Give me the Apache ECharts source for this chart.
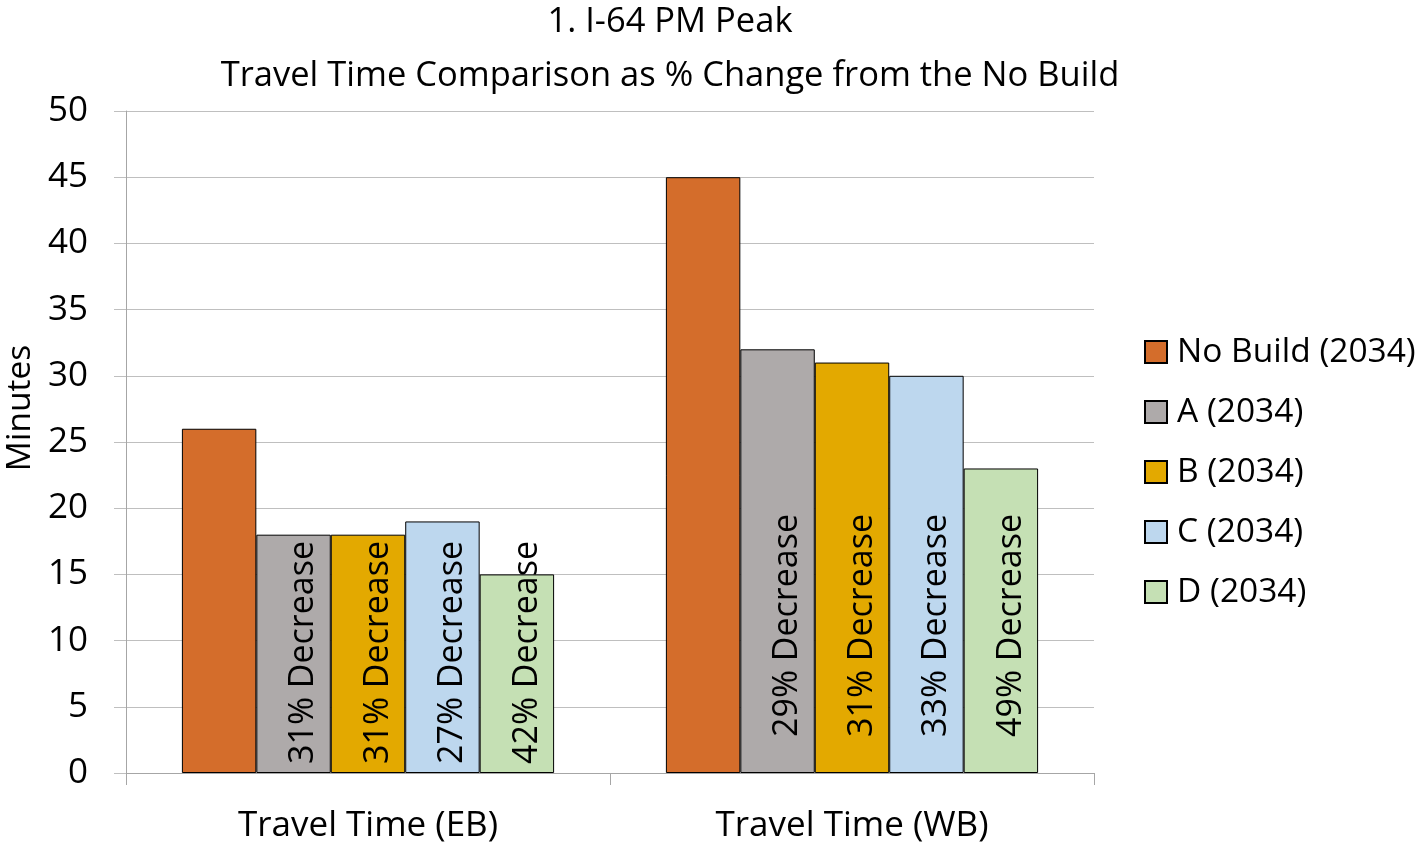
<!DOCTYPE html>
<html>
<head>
<meta charset="utf-8">
<script src="https://cdn.jsdelivr.net/npm/echarts@6/dist/echarts.min.js"></script>
<style>html,body{margin:0;padding:0;background:#fff}#c{width:1425px;height:844px}</style>
</head>
<body>
<div id="c"></div>
<script>
const categories = ['Travel Time (EB)', 'Travel Time (WB)'];
const seriesNames = ['No Build (2034)', 'A (2034)', 'B (2034)', 'C (2034)', 'D (2034)'];
const noBuild = [26, 45];
const altA = [18, 32];
const altB = [18, 31];
const altC = [19, 30];
const altD = [15, 23];
const labelsA = ['31% Decrease', '29% Decrease'];
const labelsB = ['31% Decrease', '31% Decrease'];
const labelsC = ['27% Decrease', '33% Decrease'];
const labelsD = ['42% Decrease', '49% Decrease'];
const yTicks = [0, 5, 10, 15, 20, 25, 30, 35, 40, 45, 50];

const colors = ['#D46D2B', '#AEAAAA', '#E3A900', '#BDD7EE', '#C5E0B4'];
const FONT = 'Open Sans';
const labelDist = [9, 36];

function mk(name, values, labels, color) {
  return {
    name: name,
    type: 'bar',
    barGap: 0,
    barCategoryGap: '23.1%',
    itemStyle: { color: color, borderColor: '#000', borderWidth: 1 },
    data: values.map((v, i) => ({
      value: v,
      label: labels ? {
        show: true,
        position: 'insideBottom',
        distance: labelDist[i],
        rotate: 90,
        align: 'left',
        verticalAlign: 'middle',
        offset: [0, 10],
        formatter: labels[i],
        fontFamily: FONT,
        fontSize: 34,
        color: '#000'
      } : { show: false }
    }))
  };
}

const chart = echarts.init(document.getElementById('c'));
chart.setOption({
  animation: false,
  color: colors,
  title: [
    { text: '1. I-64 PM Peak', left: 665, textAlign: 'center', top: -1,
      textStyle: { fontFamily: FONT, fontSize: 34.5, fontWeight: 'normal', color: '#000', lineHeight: 36 } },
    { text: 'Travel Time Comparison as % Change from the No Build', left: 665, textAlign: 'center', top: 53,
      textStyle: { fontFamily: FONT, fontSize: 34.5, fontWeight: 'normal', color: '#000', lineHeight: 36 } }
  ],
  grid: { left: 126, right: 331, top: 111, bottom: 70, containLabel: false },
  legend: {
    orient: 'vertical',
    left: 1139,
    top: 330,
    itemWidth: 22,
    itemHeight: 22,
    itemGap: 26,
    icon: 'rect',
    textStyle: { fontFamily: FONT, fontSize: 33.5, color: '#000', lineHeight: 22, padding: [0, 0, 0, 5] },
    data: seriesNames
  },
  graphic: [{
    type: 'text', x: 20, y: 408, rotation: Math.PI / 2,
    style: { text: 'Minutes', fontFamily: FONT, fontSize: 33.5, fill: '#000', align: 'center', verticalAlign: 'middle' }
  }],
  xAxis: {
    type: 'category',
    data: categories,
    axisLine: { lineStyle: { color: '#A6A6A6', width: 1 } },
    axisTick: { show: true, length: 12, lineStyle: { color: '#A6A6A6' } },
    axisLabel: { fontFamily: FONT, fontSize: 35, color: '#000', margin: 36 }
  },
  yAxis: {
    type: 'value',
    min: 0, max: 50, interval: 5,
    axisLine: { show: true, lineStyle: { color: '#A6A6A6', width: 1 } },
    axisTick: { show: true, length: 12, lineStyle: { color: '#BFBFBF' } },
    splitLine: { show: true, lineStyle: { color: '#BFBFBF', width: 1 } },
    axisLabel: { fontFamily: FONT, fontSize: 35, color: '#000', margin: 38,
      formatter: v => yTicks.includes(v) ? String(v) : '' }
  },
  series: [
    mk(seriesNames[0], noBuild, null, colors[0]),
    mk(seriesNames[1], altA, labelsA, colors[1]),
    mk(seriesNames[2], altB, labelsB, colors[2]),
    mk(seriesNames[3], altC, labelsC, colors[3]),
    mk(seriesNames[4], altD, labelsD, colors[4])
  ]
});
</script>
</body>
</html>
